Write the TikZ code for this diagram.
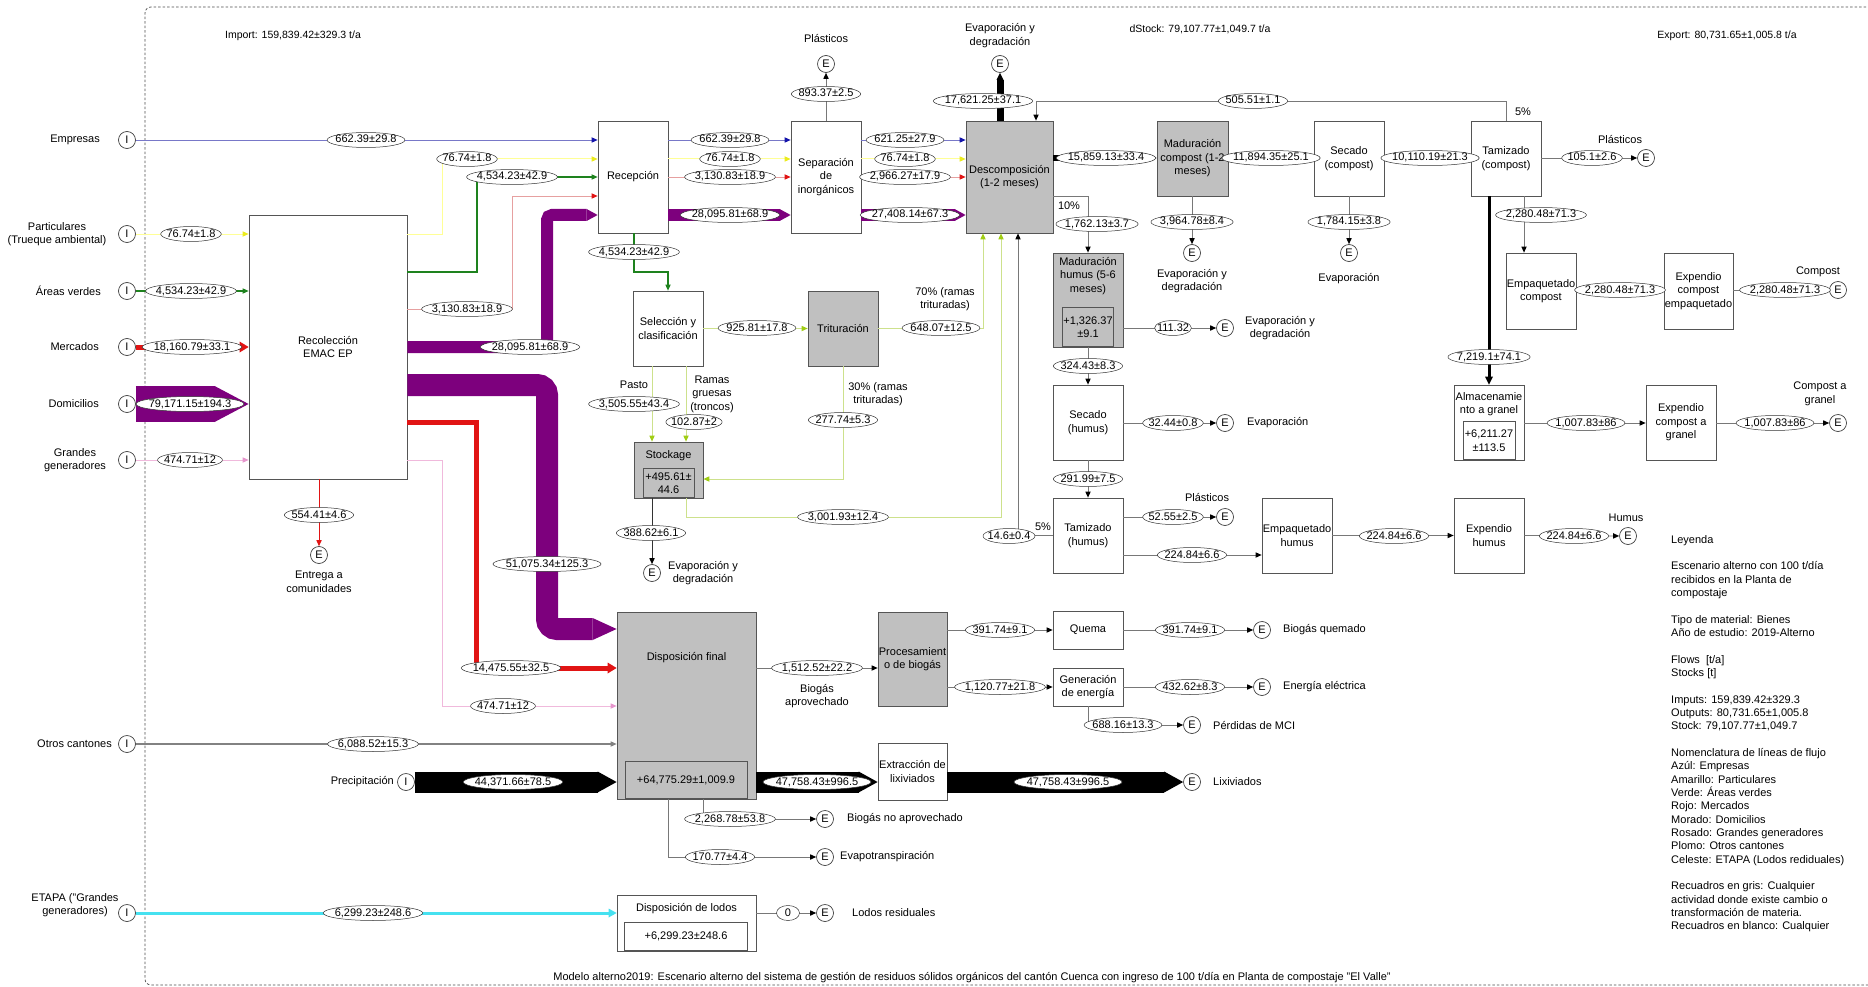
\documentclass[tikz,border=0pt]{standalone}
\usepackage{fontspec}
\setmainfont{Liberation Sans}
\usetikzlibrary{arrows.meta,shapes.geometric}
\definecolor{boxg}{RGB}{192,192,192}
\definecolor{boxc}{RGB}{85,85,85}
\definecolor{cline}{RGB}{120,120,120}
\definecolor{cblue}{RGB}{120,120,200}
\definecolor{cbluet}{RGB}{20,20,170}
\definecolor{cyel}{RGB}{255,255,150}
\definecolor{cyelt}{RGB}{235,235,30}
\definecolor{cgreen}{RGB}{30,130,30}
\definecolor{cred}{RGB}{225,20,20}
\definecolor{csal}{RGB}{230,160,160}
\definecolor{cpur}{RGB}{125,0,125}
\definecolor{cpink}{RGB}{240,185,220}
\definecolor{cpinkt}{RGB}{230,150,205}
\definecolor{cgray}{RGB}{130,130,130}
\definecolor{ccyan}{RGB}{70,225,240}
\definecolor{cyg}{RGB}{205,225,140}
\definecolor{cygt}{RGB}{160,205,20}
\begin{document}
\begin{tikzpicture}[x=1pt,y=-1pt,
  font=\fontsize{11}{13.5}\selectfont,
  box/.style={draw=boxc,line width=0.8pt,fill=white,align=center,inner sep=0pt,minimum width=70pt,minimum height=75pt},
  gbox/.style={box,fill=boxg},
  lab/.style={ellipse,draw=black!80,line width=0.5pt,fill=white,inner xsep=-3pt,inner ysep=0.5pt,text height=7.8pt,text depth=1.8pt,font=\fontsize{11}{13}\selectfont},
  io/.style={circle,draw=black!75,line width=0.7pt,fill=white,minimum size=17pt,inner sep=0pt},
  txt/.style={align=center,inner sep=0pt},
  ln/.style={draw=cline,line width=0.8pt},
  arr/.style={-{Triangle[line width=0pt,length=6pt,width=5.5pt,color=black]}},
  carr/.style={-{Triangle[line width=0pt,length=6pt,width=5.5pt,color=#1]}},
  btip/.style 2 args={-{Triangle[line width=0pt,length=#2pt,width=#1pt]}},
  frame/.style={draw=black!70,line width=0.7pt,dash pattern=on 2.5pt off 2pt,rounded corners=6pt},
  yg/.style={draw=cyg,line width=1pt,carr=cygt}
]
\useasboundingbox (0,0) rectangle (1868,987);
\draw[frame] (1875,7) -- (145,7) -- (145,985) -- (1875,985);

% ---------------- top texts
\node[txt,font=\fontsize{10.5}{13}\selectfont] (import) at (293,36) {Import: 159,839.42±329.3 t/a};
\node[txt,font=\fontsize{10.5}{13}\selectfont] (dstock) at (1200,29) {dStock: 79,107.77±1,049.7 t/a};
\node[txt,font=\fontsize{10.5}{13}\selectfont] (export) at (1727,36) {Export: 80,731.65±1,005.8 t/a};
\node[txt] (caption) at (972,978) {Modelo alterno2019: Escenario alterno del sistema de gestión de residuos sólidos orgánicos del cantón Cuenca con ingreso de 100 t/día en Planta de compostaje "El Valle"};

% ---------------- inputs
\node[io] (iEmp) at (127,140) {I};
\node[io] (iPart) at (127,234) {I};
\node[io] (iAV) at (127,291) {I};
\node[io] (iMer) at (127,347) {I};
\node[io] (iDom) at (127,404) {I};
\node[io] (iGG) at (127,460) {I};
\node[io] (iOC) at (127,744) {I};
\node[io] (iETA) at (127,913) {I};
\node[io] (iPrec) at (406,782) {I};
\node[txt,anchor=east] (tEmp) at (100,140) {Empresas};
\node[txt] (tPart) at (57,234) {Particulares\\(Trueque ambiental)};
\node[txt,anchor=east] (tAV) at (101,291) {Áreas verdes};
\node[txt,anchor=east] (tMer) at (99,347) {Mercados};
\node[txt,anchor=east] (tDom) at (99,404) {Domicilios};
\node[txt] (tGG) at (75,460) {Grandes\\generadores};
\node[txt,anchor=east] (tOC) at (112,744) {Otros cantones};
\node[txt] (tETA) at (75,905) {ETAPA ("Grandes\\generadores)};
\node[txt,anchor=east] (tPrec) at (394,782) {Precipitación};

% ---------------- boxes
\node[box,minimum width=158pt,minimum height=264pt] (recol) at (328,347) {Recolección\\EMAC EP};
\node[box,minimum height=112pt] (rec) at (633,177) {Recepción};
\node[box,minimum height=112pt] (sep) at (826,177) {Separación\\de\\inorgánicos};
\node[gbox,minimum width=87pt,minimum height=112pt] (desc) at (1009.5,177) {Descomposición\\(1-2 meses)};
\node[gbox,minimum width=71pt] (madC) at (1192.5,158.5) {Maduración\\compost (1-2\\meses)};
\node[box] (secC) at (1349,158.5) {Secado\\(compost)};
\node[box] (tamC) at (1506,158.5) {Tamizado\\(compost)};
\node[box,minimum height=76pt] (empC) at (1541,291) {Empaquetado\\compost};
\node[box,minimum width=69pt,minimum height=76pt] (expCE) at (1698.5,291) {Expendio\\compost\\empaquetado};
\node[box] (alm) at (1489,422.5) {};
\node[txt] (almT) at (1489,404) {Almacenamie\\nto a granel};
\node[box,minimum width=52pt,minimum height=38pt,anchor=south] (almS) at (1489,460) {+6,211.27\\±113.5};
\node[box] (expCG) at (1681,422.5) {Expendio\\compost a\\granel};
\node[box] (sel) at (668,328.5) {Selección y\\clasificación};
\node[gbox] (trit) at (843,328.5) {Trituración};
\node[gbox,minimum width=69pt,minimum height=56pt] (stock) at (668.5,470) {};
\node[txt] (stockT) at (668.5,456) {Stockage};
\node[gbox,minimum width=51pt,minimum height=29pt,anchor=south] (stockS) at (668.5,498) {+495.61±\\44.6};
\node[gbox,minimum height=94pt] (madH) at (1088,300) {};
\node[txt] (madHT) at (1088,276) {Maduración\\humus (5-6\\meses)};
\node[gbox,minimum width=51pt,minimum height=39pt,anchor=south] (madHS) at (1088,347) {+1,326.37\\±9.1};
\node[box] (secH) at (1088,422.5) {Secado\\(humus)};
\node[box] (tamH) at (1088,535.5) {Tamizado\\(humus)};
\node[box] (empH) at (1297,535.5) {Empaquetado\\humus};
\node[box] (expH) at (1489,535.5) {Expendio\\humus};
\node[gbox,minimum width=139pt,minimum height=187pt] (dispF) at (686.5,705.5) {};
\node[txt] (dispFT) at (686.5,658) {Disposición final};
\node[gbox,minimum width=122pt,minimum height=37pt,anchor=south] (dispFS) at (686,799) {+64,775.29±1,009.9};
\node[gbox,minimum width=69pt,minimum height=94pt] (proc) at (912.5,659) {Procesamient\\o de biogás};
\node[box,minimum height=38pt] (quema) at (1088,630) {Quema};
\node[box,minimum height=38pt] (gen) at (1088,687) {Generación\\de energía};
\node[box,minimum width=69pt,minimum height=57pt] (ext) at (912.5,771.5) {Extracción de\\lixiviados};
\node[box,minimum width=139pt,minimum height=56pt] (lodos) at (686.5,923) {};
\node[txt] (lodosT) at (686.5,909) {Disposición de lodos};
\node[box,minimum width=123pt,minimum height=28pt,anchor=south] (lodosS) at (686,951) {+6,299.23±248.6};

% ---------------- exits
\node[io] (eEnt) at (319,555) {E};
\node[io] (eSepP) at (826,64) {E};
\node[io] (eDesc) at (1000,64) {E};
\node[io] (eMadC) at (1192,253) {E};
\node[io] (eSecC) at (1349,253) {E};
\node[io] (eTamCP) at (1646,158) {E};
\node[io] (eCompost) at (1838,290) {E};
\node[io] (eCG) at (1838,423) {E};
\node[io] (eStock) at (652,573) {E};
\node[io] (eMadH) at (1225,328) {E};
\node[io] (eSecH) at (1225,423) {E};
\node[io] (eTamHP) at (1225,517) {E};
\node[io] (eHumus) at (1628,536) {E};
\node[io] (eBNA) at (825,819) {E};
\node[io] (eEvt) at (825,857) {E};
\node[io] (eQ) at (1262,630) {E};
\node[io] (eEE) at (1262,687) {E};
\node[io] (ePMCI) at (1192,725) {E};
\node[io] (eLix) at (1192,782) {E};
\node[io] (eLodos) at (825,913) {E};

\node[txt] (xEnt) at (319,582) {Entrega a\\comunidades};
\node[txt] (xSepP) at (826,39) {Plásticos};
\node[txt] (xDesc) at (1000,35.5) {Evaporación y\\degradación};
\node[txt] (xMadC) at (1192,281) {Evaporación y\\degradación};
\node[txt] (xSecC) at (1349,279) {Evaporación};
\node[txt] (xTamCP) at (1620,140) {Plásticos};
\node[txt] (xCompost) at (1818,272) {Compost};
\node[txt] (xCG) at (1820,394) {Compost a\\granel};
\node[txt,anchor=west] (xStock) at (668,573) {Evaporación y\\degradación};
\node[txt,anchor=west] (xMadH) at (1245,328) {Evaporación y\\degradación};
\node[txt,anchor=west] (xSecH) at (1247,423) {Evaporación};
\node[txt] (xTamHP) at (1207,498) {Plásticos};
\node[txt] (xHumus) at (1626,518) {Humus};
\node[txt,anchor=west] (xBNA) at (847,819) {Biogás no aprovechado};
\node[txt,anchor=west] (xEvt) at (840,857) {Evapotranspiración};
\node[txt,anchor=west] (xQ) at (1283,630) {Biogás quemado};
\node[txt,anchor=west] (xEE) at (1283,687) {Energía eléctrica};
\node[txt,anchor=west] (xPMCI) at (1213,725) {Pérdidas de MCI};
\node[txt,anchor=west] (xLix) at (1213,782) {Lixiviados};
\node[txt,anchor=west] (xLodos) at (852,913) {Lodos residuales};
\node[txt] (xBA) at (817,696) {Biogás\\aprovechado};
\node[txt] (x70) at (945,299) {70\% (ramas\\trituradas)};
\node[txt] (xPasto) at (634,385) {Pasto};
\node[txt] (xRamas) at (712,394) {Ramas\\gruesas\\(troncos)};
\node[txt] (x30) at (878,394) {30\% (ramas\\trituradas)};
\node[txt] (x10) at (1069,206) {10\%};
\node[txt] (x5a) at (1523,112) {5\%};
\node[txt] (x5b) at (1043,527) {5\%};

% ---------------- legend
\node[anchor=north west,align=left,inner sep=0pt,font=\fontsize{11}{13.33}\selectfont] (legend) at (1671,535) {Leyenda\\[13.33pt]
Escenario alterno con 100 t/día\\recibidos en la Planta de\\compostaje\\[13.33pt]
Tipo de material: Bienes\\Año de estudio: 2019-Alterno\\[13.33pt]
Flows~~[t/a]\\Stocks [t]\\[13.33pt]
Imputs: 159,839.42±329.3\\Outputs: 80,731.65±1,005.8\\Stock: 79,107.77±1,049.7\\[13.33pt]
Nomenclatura de líneas de flujo\\Azúl: Empresas\\Amarillo: Particulares\\Verde: Áreas verdes\\Rojo: Mercados\\Morado: Domicilios\\Rosado: Grandes generadores\\Plomo: Otros cantones\\Celeste: ETAPA (Lodos rediduales)\\[13.33pt]
Recuadros en gris: Cualquier\\actividad donde existe cambio o\\transformación de materia.\\Recuadros en blanco: Cualquier};

% ---------------- input flows
\draw[line width=0.8pt,draw=cblue,carr=cbluet] (iEmp) -- (rec.west |- iEmp);
\draw[line width=1pt,draw=cyel,carr=cyelt] (iPart) -- (recol.west |- iPart);
\draw[line width=1.6pt,draw=cgreen,carr=cgreen] (iAV) -- (recol.west |- iAV);
\draw[line width=5pt,draw=cred,-{Triangle[line width=0pt,length=9pt,width=11pt]}] (iMer) -- (recol.west |- iMer);
\draw[line width=36pt,draw=cpur,btip={36}{34}] (iDom) -- (recol.west |- iDom);
\draw[line width=1pt,draw=cpink,carr=cpinkt] (iGG) -- (recol.west |- iGG);
\draw[line width=1.5pt,draw=cgray,carr=cgray] (iOC) -- (dispF.west |- iOC);
\draw[line width=3pt,draw=ccyan,-{Triangle[line width=0pt,length=8pt,width=9pt]}] (iETA) -- (lodos.west |- iETA);
\draw[line width=21pt,draw=black,btip={21}{19}] (iPrec) -- (dispF.west |- iPrec);

% ---------------- Recoleccion outputs
\draw[line width=1pt,draw=cyel,carr=cyelt] (recol.east |- iPart) -- (442,234) |- (rec.west |- 0,159);
\draw[line width=1.6pt,draw=cgreen,carr=cgreen] (recol.east |- 0,272) -- (477,272) |- (rec.west |- 0,177);
\draw[line width=0.8pt,draw=csal,carr=cred] (recol.east |- 0,309) -- (512,309) |- (rec.west |- 0,196);
\draw[line width=12pt,draw=cpur,btip={12}{11},rounded corners=5pt] (recol.east |- 0,347) -- (547,347) |- (rec.west |- 0,215);
\draw[line width=22pt,draw=cpur,btip={22}{24},rounded corners=10pt] (recol.east |- 0,385) -- (547,385) |- (dispF.west |- 0,629);
\draw[line width=5pt,draw=cred,-{Triangle[line width=0pt,length=9pt,width=11pt]}] (recol.east |- 0,422) -- (476,422) |- (dispF.west |- 0,668);
\draw[line width=1pt,draw=cpink,carr=cpinkt] (recol.east |- iGG) -- (442,460) |- (dispF.west |- 0,706);
\draw[line width=0.8pt,draw=cred,carr=cred] (recol.south -| eEnt) -- (eEnt);

% ---------------- Recepcion -> Separacion
\draw[line width=0.8pt,draw=cblue,carr=cbluet] (rec.east |- iEmp) -- (sep.west |- iEmp);
\draw[line width=1pt,draw=cyel,carr=cyelt] (rec.east |- 0,159) -- (sep.west |- 0,159);
\draw[line width=0.8pt,draw=csal,carr=cred] (rec.east |- 0,177) -- (sep.west |- 0,177);
\draw[line width=12pt,draw=cpur,btip={12}{11}] (rec.east |- 0,215) -- (sep.west |- 0,215);
\draw[line width=1.6pt,draw=cgreen,carr=cgreen] (rec.south -| 634,0) -- (634,272) -| (sel.north);

% ---------------- Separacion -> Descomposicion
\draw[ln,arr] (sep.north) -- (eSepP);
\draw[line width=0.8pt,draw=cblue,carr=cbluet] (sep.east |- iEmp) -- (desc.west |- iEmp);
\draw[line width=1pt,draw=cyel,carr=cyelt] (sep.east |- 0,159) -- (desc.west |- 0,159);
\draw[line width=0.8pt,draw=csal,carr=cred] (sep.east |- 0,177) -- (desc.west |- 0,177);
\draw[line width=12pt,draw=cpur,btip={12}{11}] (sep.east |- 0,215) -- (desc.west |- 0,215);

% ---------------- Descomposicion and compost line
\draw[line width=7pt,draw=black,btip={7}{7}] (eDesc |- desc.north) -- (eDesc);
\draw[line width=6pt,draw=black,btip={6}{6}] (desc.east |- 0,158) -- (madC.west |- 0,158);
\draw[ln,arr] (desc.east |- 0,196) -| (madH.north);
\draw[ln,arr] (eMadC |- madC.south) -- (eMadC);
\draw[ln,arr] (madC.east |- 0,158) -- (secC.west |- 0,158);
\draw[ln,arr] (eSecC |- secC.south) -- (eSecC);
\draw[ln,arr] (secC.east |- 0,158) -- (tamC.west |- 0,158);
\draw[ln,arr] (tamC.north) -- (1506,101) -| (desc.north -| 1036,0);
\draw[ln,arr] (tamC.east |- eTamCP) -- (eTamCP);
\draw[ln,arr] (tamC.south -| 1524,0) -- (empC.north -| 1524,0);
\draw[line width=3pt,draw=black,-{Triangle[line width=0pt,length=8pt,width=8pt]}] (tamC.south -| alm) -- (alm.north);
\draw[ln,arr] (empC.east |- 0,290) -- (expCE.west |- 0,290);
\draw[ln,arr] (expCE.east |- eCompost) -- (eCompost);
\draw[ln,arr] (alm.east |- 0,423) -- (expCG.west |- 0,423);
\draw[ln,arr] (expCG.east |- eCG) -- (eCG);

% ---------------- Seleccion, Trituracion, Stockage
\draw[yg] (sel.east) -- (trit.west);
\draw[yg] (sel.south -| 652,0) -- (stock.north -| 652,0);
\draw[yg] (sel.south -| 686,0) -- (stock.north -| 686,0);
\draw[yg] (trit.east) -| (desc.south -| 983,0);
\draw[yg] (trit.south) |- (stock.east |- 0,479);
\draw[yg] (stock.south -| 686,0) -- (686,517) -| (desc.south -| 1001,0);
\draw[ln,draw=black!80,arr] (stock.south -| eStock) -- (eStock);

% ---------------- humus line
\draw[ln,arr] (madH.east |- eMadH) -- (eMadH);
\draw[ln,arr] (madH.south) -- (secH.north);
\draw[ln,arr] (secH.east |- eSecH) -- (eSecH);
\draw[ln,arr] (secH.south) -- (tamH.north);
\draw[ln,arr] (tamH.east |- eTamHP) -- (eTamHP);
\draw[ln,arr] (tamH.east |- 0,555) -- (empH.west |- 0,555);
\draw[ln,arr] (tamH.west) -| (desc.south -| 1018,0);
\draw[ln,arr] (empH.east) -- (expH.west);
\draw[ln,arr] (expH.east) -- (eHumus);

% ---------------- Disposicion final
\draw[ln,arr] (dispF.east |- 0,668) -- (proc.west |- 0,668);
\draw[line width=21pt,draw=black,btip={21}{19}] (dispF.east |- iPrec) -- (ext.west |- iPrec);
\draw[ln,arr] (dispF.south -| 703,0) |- (eBNA);
\draw[ln,arr] (dispF.south -| 668,0) |- (eEvt);
\draw[ln,arr] (proc.east |- quema) -- (quema.west);
\draw[ln,arr] (proc.east |- gen) -- (gen.west);
\draw[ln,arr] (quema.east) -- (eQ);
\draw[ln,arr] (gen.east) -- (eEE);
\draw[ln,arr] (gen.south) |- (ePMCI);
\draw[line width=21pt,draw=black,btip={21}{19}] (ext.east |- eLix) -- (eLix);
\draw[ln,arr] (lodos.east |- iETA) -- (eLodos);

% ---------------- flow labels
\node[lab] (l1) at (366,140) {662.39±29.8};
\node[lab] (l2) at (191,234) {76.74±1.8};
\node[lab] (l3) at (191,291) {4,534.23±42.9};
\node[lab] (l4) at (192,347) {18,160.79±33.1};
\node[lab] (l5) at (190,404) {79,171.15±194.3};
\node[lab] (l6) at (190,460) {474.71±12};
\node[lab] (l7) at (373,744) {6,088.52±15.3};
\node[lab] (l8) at (373,913) {6,299.23±248.6};
\node[lab] (l9) at (513,782) {44,371.66±78.5};
\node[lab] (l10) at (467,159) {76.74±1.8};
\node[lab] (l11) at (512,177) {4,534.23±42.9};
\node[lab] (l12) at (467,309) {3,130.83±18.9};
\node[lab] (l13) at (530,347) {28,095.81±68.9};
\node[lab] (l14) at (547,564) {51,075.34±125.3};
\node[lab] (l15) at (511,668) {14,475.55±32.5};
\node[lab] (l16) at (503,706) {474.71±12};
\node[lab] (l17) at (319,515) {554.41±4.6};
\node[lab] (l18) at (730,140) {662.39±29.8};
\node[lab] (l19) at (730,159) {76.74±1.8};
\node[lab] (l20) at (730,177) {3,130.83±18.9};
\node[lab] (l21) at (730,215) {28,095.81±68.9};
\node[lab] (l22) at (634,252) {4,534.23±42.9};
\node[lab] (l23) at (826,94) {893.37±2.5};
\node[lab] (l24) at (905,140) {621.25±27.9};
\node[lab] (l25) at (905,159) {76.74±1.8};
\node[lab] (l26) at (905,177) {2,966.27±17.9};
\node[lab] (l27) at (910,215) {27,408.14±67.3};
\node[lab] (l28) at (983,101) {17,621.25±37.1};
\node[lab] (l29) at (1106,158) {15,859.13±33.4};
\node[lab] (l30) at (1097,224) {1,762.13±3.7};
\node[lab] (l31) at (1192,222) {3,964.78±8.4};
\node[lab] (l32) at (1271,158) {11,894.35±25.1};
\node[lab] (l33) at (1349,222) {1,784.15±3.8};
\node[lab] (l34) at (1430,158) {10,110.19±21.3};
\node[lab] (l35) at (1253,101) {505.51±1.1};
\node[lab] (l36) at (1592,158) {105.1±2.6};
\node[lab] (l37) at (1541,215) {2,280.48±71.3};
\node[lab] (l38) at (1489,357) {7,219.1±74.1};
\node[lab] (l39) at (1620,290) {2,280.48±71.3};
\node[lab] (l40) at (1785,290) {2,280.48±71.3};
\node[lab] (l41) at (1586,423) {1,007.83±86};
\node[lab] (l42) at (1775,423) {1,007.83±86};
\node[lab] (l43) at (757,328) {925.81±17.8};
\node[lab] (l44) at (634,404) {3,505.55±43.4};
\node[lab] (l45) at (694,422) {102.87±2};
\node[lab] (l46) at (941,328) {648.07±12.5};
\node[lab] (l47) at (843,420) {277.74±5.3};
\node[lab] (l48) at (843,517) {3,001.93±12.4};
\node[lab] (l49) at (651,533) {388.62±6.1};
\node[lab] (l50) at (1173,328) {111.32};
\node[lab] (l51) at (1088,366) {324.43±8.3};
\node[lab] (l52) at (1173,423) {32.44±0.8};
\node[lab] (l53) at (1088,479) {291.99±7.5};
\node[lab] (l54) at (1173,517) {52.55±2.5};
\node[lab] (l55) at (1192,555) {224.84±6.6};
\node[lab] (l56) at (1009,536) {14.6±0.4};
\node[lab] (l57) at (1394,536) {224.84±6.6};
\node[lab] (l58) at (1574,536) {224.84±6.6};
\node[lab] (l59) at (817,668) {1,512.52±22.2};
\node[lab] (l60) at (817,782) {47,758.43±996.5};
\node[lab] (l61) at (730,819) {2,268.78±53.8};
\node[lab] (l62) at (720,857) {170.77±4.4};
\node[lab] (l63) at (1000,630) {391.74±9.1};
\node[lab] (l64) at (1000,687) {1,120.77±21.8};
\node[lab] (l65) at (1190,630) {391.74±9.1};
\node[lab] (l66) at (1190,687) {432.62±8.3};
\node[lab] (l67) at (1123,725) {688.16±13.3};
\node[lab] (l68) at (1068,782) {47,758.43±996.5};
\node[lab,minimum width=23pt] (l69) at (788,913) {0};
\end{tikzpicture}
\end{document}
